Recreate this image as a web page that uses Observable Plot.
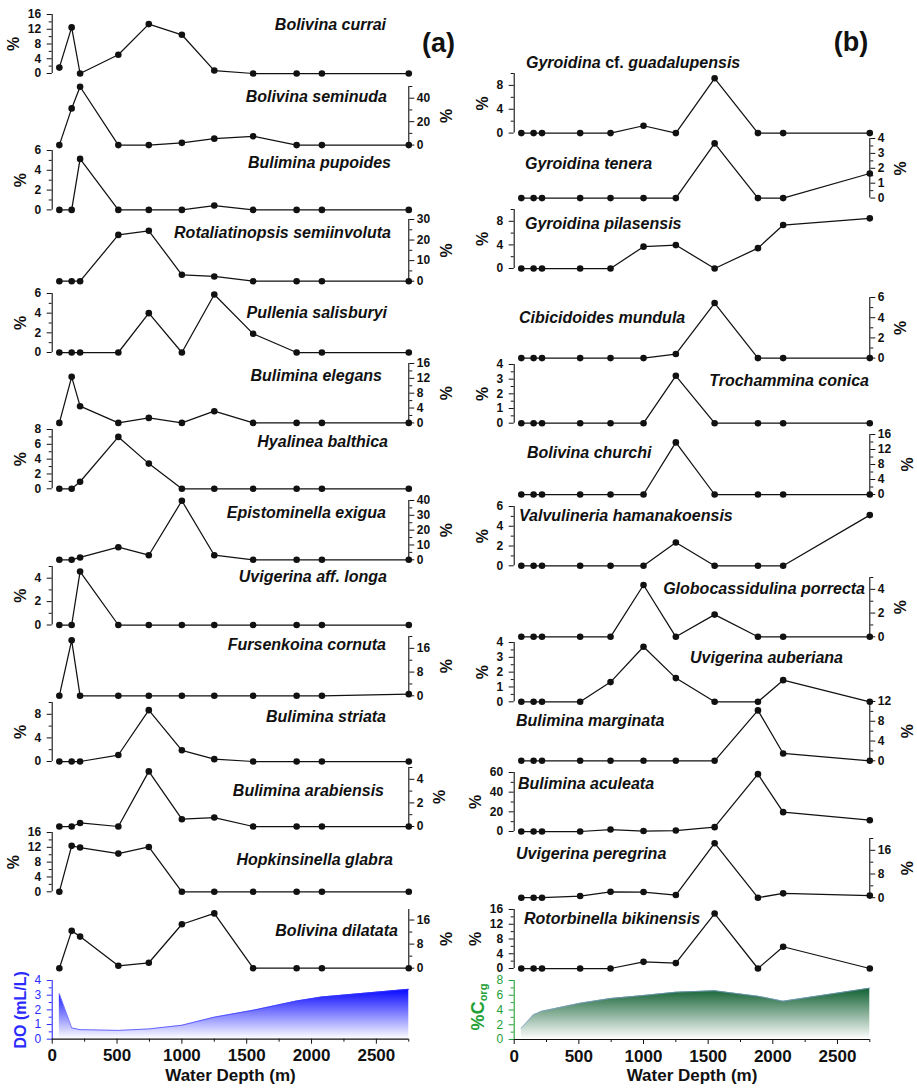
<!DOCTYPE html>
<html><head><meta charset="utf-8">
<script src="https://cdn.jsdelivr.net/npm/d3@7"></script>
<script src="https://cdn.jsdelivr.net/npm/@observablehq/plot@0.6"></script>
<style>
html,body{margin:0;padding:0;background:#fff;}
#root{position:relative;width:917px;height:1089px;overflow:hidden;font-family:"Liberation Sans",Arial,Helvetica,sans-serif;color:#111;}
.title{position:absolute;font:italic bold 16px "Liberation Sans",Arial,Helvetica,sans-serif;white-space:nowrap;line-height:20px;height:20px;color:#111;}
.title .up{font-style:normal;}
.tag{position:absolute;font:bold 27px "Liberation Sans",Arial,Helvetica,sans-serif;line-height:30px;transform:translate(-50%,-50%);white-space:nowrap;}
.vlab{position:absolute;font:bold 18px "Liberation Sans",Arial,Helvetica,sans-serif;white-space:nowrap;transform:translate(-50%,-50%) rotate(-90deg);line-height:22px;}
</style></head><body><div id="root"></div>
<script>
// ---------- data ----------
const depths = [55, 150, 215, 510, 745, 1000, 1250, 1550, 1885, 2080, 2750];

// column (a)
const bolivinaCurrai = [1.6, 12.5, 0, 5.1, 13.4, 10.5, 0.8, 0, 0, 0, 0];
const bolivinaSeminuda = [0, 31.3, 49.8, 0, 0, 1.9, 5.5, 7.5, 0, 0, 0];
const buliminaPupoides = [0, 0, 5.15, 0, 0, 0, 0.44, 0, 0, 0, 0];
const rotaliatinopsisSemiinvoluta = [0, 0, 0, 22.5, 24.5, 3.1, 2.3, 0, 0, 0, 0];
const pulleniaSalisburyi = [0, 0, 0, 0, 4.0, 0, 5.9, 1.9, 0, 0, 0];
const buliminaElegans = [0, 12.4, 4.5, 0, 1.35, 0, 3.15, 0, 0, 0, 0];
const hyalineaBalthica = [0, 0, 0.95, 7.0, 3.4, 0, 0, 0, 0, 0, 0];
const epistominellaExigua = [0, 0, 1.6, 8.5, 3.1, 39.8, 3.1, 0, 0, 0, 0];
const uvigerinaAffLonga = [0, 0, 4.57, 0, 0, 0, 0, 0, 0, 0, 0];
const fursenkoinaCornuta = [0, 18.7, 0, 0, 0, 0, 0, 0, 0, 0, 0.55];
const buliminaStriata = [0, 0, 0, 1.1, 8.7, 1.9, 0.4, 0, 0, 0, 0];
const buliminaArabiensis = [0, 0, 0.3, 0, 4.67, 0.62, 0.76, 0, 0, 0, 0];
const hopkinsinellaGlabra = [0, 12.4, 11.95, 10.3, 12.1, 0, 0, 0, 0, 0, 0];
const bolivinaDilatata = [0, 12.4, 10.5, 0.8, 1.8, 14.6, 18.2, 0, 0, 0, 0];
const dissolvedOxygen = [3.1, 0.77, 0.65, 0.6, 0.7, 0.95, 1.5, 1.97, 2.6, 2.88, 3.4];

// column (b)
const gyroidinaGuadalupensis = [0, 0, 0, 0, 0, 1.23, 0, 9.2, 0, 0, 0];
const gyroidinaTenera = [0, 0, 0, 0, 0, 0, 0, 3.67, 0, 0, 1.65];
const gyroidinaPilasensis = [0, 0, 0, 0, 0, 3.7, 3.97, 0, 3.45, 7.37, 8.5];
const cibicidoidesMundula = [0, 0, 0, 0, 0, 0, 0.4, 5.45, 0, 0, 0];
const trochamminaConica = [0, 0, 0, 0, 0, 0, 3.23, 0, 0, 0, 0];
const bolivinaChurchi = [0, 0, 0, 0, 0, 0, 13.9, 0, 0, 0, 0];
const valvulineriaHamanakoensis = [0, 0, 0, 0, 0, 0, 2.36, 0, 0, 0, 5.13];
const globocassidulinaPorrecta = [0, 0, 0, 0, 0, 4.37, 0, 1.87, 0, 0, 0];
const uvigerinaAuberiana = [0, 0, 0, 0, 1.33, 3.71, 1.6, 0, 0, 1.46, 0];
const buliminaMarginata = [0, 0, 0, 0, 0, 0, 0, 0, 10.2, 1.48, 0];
const buliminaAculeata = [0, 0, 0, 0, 2, 0.5, 1, 4.4, 58.3, 19.7, 11.5];
const uvigerinaPeregrina = [0, 0, 0, 0.56, 2, 1.9, 0.9, 18.4, 0, 1.46, 0.7];
const rotorbinellaBikinensis = [0, 0, 0, 0, 0, 1.8, 1.46, 14.9, 0, 5.9, 0];
const organicCarbon = [1.53, 3.35, 3.84, 4.93, 5.56, 5.97, 6.42, 6.6, 5.87, 5.2, 6.96];

// tick label sets
const ticks0to4 = [0, 1, 2, 3, 4];
const ticks0to4by2 = [0, 2, 4];
const ticks0to6 = [0, 2, 4, 6];
const ticks0to8 = [0, 2, 4, 6, 8];
const ticks0to8by4 = [0, 4, 8];
const ticks0to12 = [0, 4, 8, 12];
const ticks0to16 = [0, 4, 8, 12, 16];
const ticks0to16by8 = [0, 8, 16];
const ticks0to30 = [0, 10, 20, 30];
const ticks0to40by20 = [0, 20, 40];
const ticks0to40 = [0, 10, 20, 30, 40];
const ticks0to60 = [0, 20, 40, 60];
const depthTicks = [0, 500, 1000, 1500, 2000, 2500];
const depthMinorTicks = [250, 750, 1250, 1750, 2250, 2750];
const xLabel = "Water Depth (m)";
const pctLabel = "%";

// ---------- layout ----------
const COLS = {
  a: {left: 0, width: 458, x0: 51.7, x1: 408.3},
  b: {left: 458, width: 459, x0: 513.7, x1: 869.3}
};
const FONT = '"Liberation Sans", Arial, Helvetica, sans-serif';
const DO_BLUE = "#2b2bff";
const C_GREEN = "#23a035";

const panels = [
  {col: "a", name: "Bolivina currai", values: bolivinaCurrai, side: "left", zero: 73, top: 14, ymax: 16, ticks: ticks0to16, minor: 2, tAlign: "right", tx: 386, ty: 25},
  {col: "a", name: "Bolivina seminuda", values: bolivinaSeminuda, side: "right", zero: 144.3, top: 85.7, ymax: 50, ticks: ticks0to40by20, minor: 10, tAlign: "right", tx: 387, ty: 97},
  {col: "a", name: "Bulimina pupoides", values: buliminaPupoides, side: "left", zero: 209.7, top: 150.3, ymax: 6, ticks: ticks0to6, minor: 1, tAlign: "right", tx: 391, ty: 163},
  {col: "a", name: "Rotaliatinopsis semiinvoluta", values: rotaliatinopsisSemiinvoluta, side: "right", zero: 280.7, top: 219, ymax: 30, ticks: ticks0to30, minor: 5, tAlign: "right", tx: 391, ty: 233},
  {col: "a", name: "Pullenia salisburyi", values: pulleniaSalisburyi, side: "left", zero: 351.7, top: 292.7, ymax: 6, ticks: ticks0to6, minor: 1, tAlign: "right", tx: 387, ty: 313},
  {col: "a", name: "Bulimina elegans", values: buliminaElegans, side: "right", zero: 422.7, top: 363.3, ymax: 16, ticks: ticks0to16, minor: 2, tAlign: "right", tx: 382, ty: 376},
  {col: "a", name: "Hyalinea balthica", values: hyalineaBalthica, side: "left", zero: 488, top: 428.7, ymax: 8, ticks: ticks0to8, minor: 1, tAlign: "right", tx: 388, ty: 442},
  {col: "a", name: "Epistominella exigua", values: epistominellaExigua, side: "right", zero: 559.3, top: 500, ymax: 40, ticks: ticks0to40, minor: 5, tAlign: "right", tx: 386, ty: 513},
  {col: "a", name: "Uvigerina aff. longa", values: uvigerinaAffLonga, side: "left", zero: 624, top: 565.5, ymax: 5, ticks: ticks0to4by2, minor: 1, tAlign: "right", tx: 387, ty: 577},
  {col: "a", name: "Fursenkoina cornuta", values: fursenkoinaCornuta, side: "right", zero: 695.3, top: 636, ymax: 20, ticks: ticks0to16by8, minor: 4, tAlign: "right", tx: 386, ty: 645},
  {col: "a", name: "Bulimina striata", values: buliminaStriata, side: "left", zero: 760.7, top: 701.7, ymax: 10, ticks: ticks0to8by4, minor: 2, tAlign: "right", tx: 386, ty: 717},
  {col: "a", name: "Bulimina arabiensis", values: buliminaArabiensis, side: "right", zero: 825.7, top: 766.7, ymax: 5, ticks: ticks0to4by2, minor: 1, tAlign: "right", tx: 384, ty: 791},
  {col: "a", name: "Hopkinsinella glabra", values: hopkinsinellaGlabra, side: "left", zero: 891, top: 831.7, ymax: 16, ticks: ticks0to16, minor: 2, tAlign: "right", tx: 393, ty: 860},
  {col: "a", name: "Bolivina dilatata", values: bolivinaDilatata, side: "right", zero: 967.7, top: 909, ymax: 19.5, ticks: ticks0to16by8, minor: 4, tAlign: "right", tx: 398, ty: 931},

  {col: "b", name: "Gyroidina cf. guadalupensis", values: gyroidinaGuadalupensis, side: "left", zero: 132.3, top: 72.7, ymax: 10, ticks: ticks0to8by4, minor: 2, tAlign: "left", tx: 526, ty: 63},
  {col: "b", name: "Gyroidina tenera", values: gyroidinaTenera, side: "right", zero: 197.3, top: 137.7, ymax: 4, ticks: ticks0to4, minor: 0.5, tAlign: "left", tx: 525, ty: 164},
  {col: "b", name: "Gyroidina pilasensis", values: gyroidinaPilasensis, side: "left", zero: 268.3, top: 209.3, ymax: 10, ticks: ticks0to8by4, minor: 2, tAlign: "left", tx: 525, ty: 224},
  {col: "b", name: "Cibicidoides mundula", values: cibicidoidesMundula, side: "right", zero: 357.3, top: 296.7, ymax: 6, ticks: ticks0to6, minor: 1, tAlign: "left", tx: 519, ty: 318},
  {col: "b", name: "Trochammina conica", values: trochamminaConica, side: "left", zero: 422.7, top: 364, ymax: 4, ticks: ticks0to4, minor: 0.5, tAlign: "right", tx: 869, ty: 381},
  {col: "b", name: "Bolivina churchi", values: bolivinaChurchi, side: "right", zero: 494, top: 434, ymax: 16, ticks: ticks0to16, minor: 2, tAlign: "left", tx: 527, ty: 453},
  {col: "b", name: "Valvulineria hamanakoensis", values: valvulineriaHamanakoensis, side: "left", zero: 565, top: 505.7, ymax: 6, ticks: ticks0to6, minor: 1, tAlign: "left", tx: 519, ty: 516},
  {col: "b", name: "Globocassidulina porrecta", values: globocassidulinaPorrecta, side: "right", zero: 636, top: 576.7, ymax: 5, ticks: ticks0to4by2, minor: 1, tAlign: "right", tx: 865, ty: 589},
  {col: "b", name: "Uvigerina auberiana", values: uvigerinaAuberiana, side: "left", zero: 701, top: 641.7, ymax: 4, ticks: ticks0to4, minor: 0.5, tAlign: "right", tx: 843, ty: 658},
  {col: "b", name: "Bulimina marginata", values: buliminaMarginata, side: "right", zero: 760.3, top: 701, ymax: 12, ticks: ticks0to12, minor: 2, tAlign: "left", tx: 516, ty: 721},
  {col: "b", name: "Bulimina aculeata", values: buliminaAculeata, side: "left", zero: 831, top: 772, ymax: 60, ticks: ticks0to60, minor: 10, tAlign: "left", tx: 518, ty: 784},
  {col: "b", name: "Uvigerina peregrina", values: uvigerinaPeregrina, side: "right", zero: 896.7, top: 837.5, ymax: 20, ticks: ticks0to16by8, minor: 4, tAlign: "left", tx: 516, ty: 854},
  {col: "b", name: "Rotorbinella bikinensis", values: rotorbinellaBikinensis, side: "left", zero: 967.7, top: 908.7, ymax: 16, ticks: ticks0to16, minor: 2, tAlign: "left", tx: 524, ty: 919}
];

const envPanels = [
  {col: "a", values: dissolvedOxygen, zero: 1039, top: 980.3, ymax: 4, ticks: ticks0to4, minor: 0.5, color: DO_BLUE, gradId: "gradDO", gradTop: "#0606ff", edge: "#3a3aff", yLabel: "DO (mL/L)"},
  {col: "b", values: organicCarbon, zero: 1039, top: 980, ymax: 8, ticks: ticks0to8, minor: 1, color: C_GREEN, gradId: "gradC", gradTop: "#0f5f30", edge: "#7d9fd6", yLabel: null}
];

const root = document.getElementById("root");
const MT = 8, MB = 8;

function gradientDefs(id, topColor) {
  return () => {
    const defs = d3.create("svg:defs");
    const g = defs.append("linearGradient").attr("id", id)
      .attr("x1", 0).attr("y1", 0).attr("x2", 0).attr("y2", 1);
    g.append("stop").attr("offset", "0%").attr("stop-color", topColor);
    g.append("stop").attr("offset", "100%").attr("stop-color", "#ffffff");
    return defs.node();
  };
}

function minorOf(ticks, ymax, step) {
  return d3.range(0, ymax + 1e-9, step).filter(t => !ticks.some(m => Math.abs(m - t) < 1e-9));
}

function place(svg, c, top) {
  svg.style.position = "absolute";
  svg.style.left = c.left + "px";
  svg.style.top = top + "px";
  svg.style.overflow = "visible";
  svg.style.background = "transparent";
  svg.style.maxWidth = "none";
  root.appendChild(svg);
}

function yAxisMarks(side, ticks, ymax, step, color, weight) {
  const spineX = side === "left" ? 0 : 2750;
  return [
    Plot.ruleX([spineX], {y1: 0, y2: ymax, stroke: color, strokeWidth: 1.1}),
    Plot.axisY({anchor: side, ticks, tickSize: 5, tickPadding: side === "left" ? 6 : 3,
      tickFormat: d => String(d), label: null, color, fontSize: 12, fontWeight: weight}),
    Plot.axisY({anchor: side, ticks: minorOf(ticks, ymax, step), tickSize: 3, fill: "none", label: null, color})
  ];
}

function drawSpecies(p) {
  const c = COLS[p.col];
  const h = (p.zero - p.top) + MT + MB;
  const data = depths.map((d, i) => ({depth: d, v: p.values[i]}));
  const maxDigits = d3.max(p.ticks, t => String(t).length);
  const labelDx = p.side === "left" ? -(11 + 6.67 * maxDigits + 13.5) : (8 + 6.67 * maxDigits + 16.3);
  const svg = Plot.plot({
    width: c.width, height: h,
    marginLeft: c.x0 - c.left, marginRight: c.left + c.width - c.x1,
    marginTop: MT, marginBottom: MB,
    style: {fontFamily: FONT, fontSize: "12px", fontWeight: "bold", color: "#111"},
    x: {domain: [0, 2750], axis: null},
    y: {domain: [0, p.ymax], label: null},
    marks: [
      ...yAxisMarks(p.side, p.ticks, p.ymax, p.minor, "#111", "bold"),
      Plot.text([pctLabel], {text: d => d, frameAnchor: p.side, dx: labelDx, rotate: -90,
        textAnchor: "middle", lineAnchor: "middle", fontSize: 16, fontWeight: "bold", fill: "#111"}),
      Plot.line(data, {x: "depth", y: "v", stroke: "#111", strokeWidth: 1.25}),
      Plot.dot(data, {x: "depth", y: "v", r: 3.3, fill: "#111", stroke: "none"})
    ]
  });
  place(svg, c, p.top - MT);

  const div = document.createElement("div");
  div.className = "title";
  div.innerHTML = p.name.replace(" cf. ", ' <span class="up">cf.</span> ');
  if (p.tAlign === "right") div.style.right = (917 - p.tx) + "px";
  else div.style.left = p.tx + "px";
  div.style.top = (p.ty - 10) + "px";
  root.appendChild(div);
}

function drawEnv(p) {
  const c = COLS[p.col];
  const mb = 50;
  const h = (p.zero - p.top) + MT + mb;
  const data = depths.map((d, i) => ({depth: d, v: p.values[i]}));
  const marks = [
    gradientDefs(p.gradId, p.gradTop),
    Plot.areaY(data, {x: "depth", y: "v", fill: `url(#${p.gradId})`}),
    Plot.line(data, {x: "depth", y: "v", stroke: p.edge, strokeWidth: 0.7}),
    ...yAxisMarks("left", p.ticks, p.ymax, p.minor, p.color, "normal"),
    Plot.ruleY([0], {x1: 0, x2: 2750, stroke: "#111", strokeWidth: 1.2}),
    Plot.axisX({ticks: depthTicks, tickSize: 5, tickPadding: 5, tickFormat: d => String(d), label: null,
      color: "#111", fontSize: 17, fontWeight: "bold"}),
    Plot.axisX({ticks: depthMinorTicks, tickSize: 3, fill: "none", label: null, color: "#111"}),
    Plot.text([xLabel], {text: d => d, frameAnchor: "bottom", dy: 36, textAnchor: "middle", lineAnchor: "middle",
      fontSize: 17, fontWeight: "bold", fill: "#111"})
  ];
  if (p.yLabel) {
    marks.push(Plot.text([p.yLabel], {text: d => d, frameAnchor: "left", dx: -31, rotate: -90,
      textAnchor: "middle", lineAnchor: "middle", fontSize: 16, fontWeight: "bold", fill: p.color}));
  }
  const svg = Plot.plot({
    width: c.width, height: h,
    marginLeft: c.x0 - c.left, marginRight: c.left + c.width - c.x1,
    marginTop: MT, marginBottom: mb,
    style: {fontFamily: FONT, fontSize: "12px", color: "#111"},
    x: {domain: [0, 2750]},
    y: {domain: [0, p.ymax], label: null},
    marks
  });
  place(svg, c, p.top - MT);
}

panels.forEach(drawSpecies);
envPanels.forEach(drawEnv);

// Corg axis label (with subscript)
const cl = document.createElement("div");
cl.className = "vlab";
cl.style.left = "479.5px";
cl.style.top = "1007px";
cl.style.color = C_GREEN;
cl.innerHTML = '%C<sub style="font-size:11px;vertical-align:-3px;">org</sub>';
root.appendChild(cl);

// panel tags
[["(a)", 438.5, 43], ["(b)", 851, 42]].forEach(([t, x, y]) => {
  const d = document.createElement("div");
  d.className = "tag";
  d.textContent = t;
  d.style.left = x + "px";
  d.style.top = y + "px";
  root.appendChild(d);
});
</script>
</body></html>
